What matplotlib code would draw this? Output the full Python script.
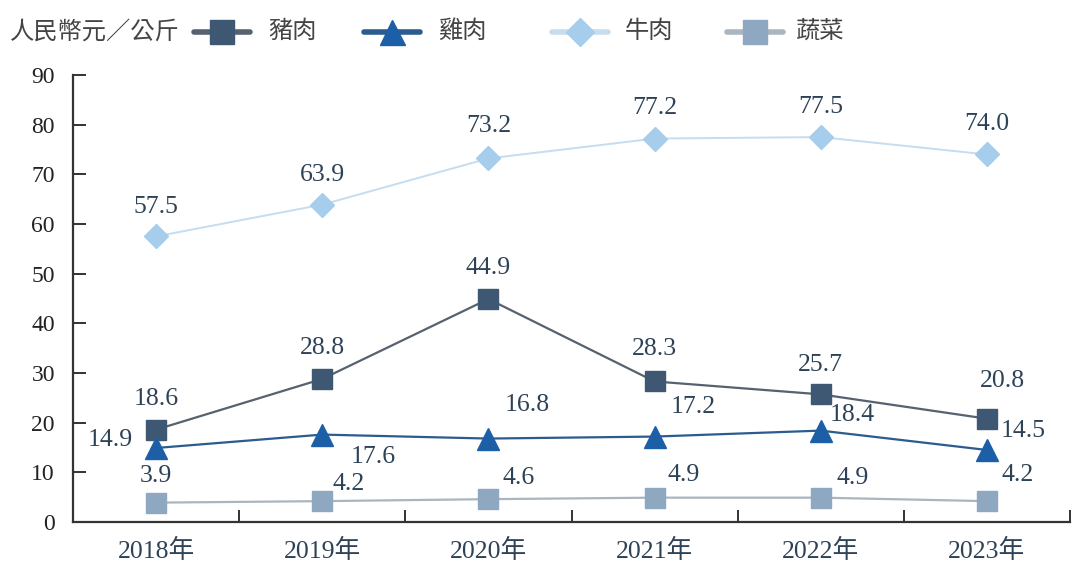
import matplotlib
matplotlib.use("Agg")
import matplotlib.pyplot as plt
from matplotlib.lines import Line2D
import numpy as np

plt.rcParams['font.family'] = ['Liberation Serif', 'Noto Sans CJK TC', 'DejaVu Sans']

years = ["2018年", "2019年", "2020年", "2021年", "2022年", "2023年"]
pork = [18.6, 28.8, 44.9, 28.3, 25.7, 20.8]
chicken = [14.9, 17.6, 16.8, 17.2, 18.4, 14.5]
beef = [57.5, 63.9, 73.2, 77.2, 77.5, 74.0]
veg = [3.9, 4.2, 4.6, 4.9, 4.9, 4.2]
names = ["豬肉", "雞肉", "牛肉", "蔬菜"]
unit = "人民幣元／公斤"

txt = "#2e4257"
fig = plt.figure(figsize=(10.8, 5.81), dpi=100)
ax = fig.add_axes([73/1080, 1-522/581, (1070-73)/1080, (522-75)/581])
x = np.arange(len(years))

styles = [
    dict(data=pork, line="#56626f", mc="#3e5773", marker="s", ms=15, lw=1.6),
    dict(data=chicken, line="#2c5b8e", mc="#1d5fa6", marker="^", ms=16, lw=1.6),
    dict(data=beef, line="#c6dcef", mc="#a6cdec", marker="D", ms=12, lw=1.4),
    dict(data=veg, line="#aab5c0", mc="#8fa8c2", marker="s", ms=15, lw=1.6),
]
for s in styles:
    ax.plot(x, s["data"], color=s["line"], lw=s["lw"], marker=s["marker"], ms=s["ms"],
            mfc=s["mc"], mec=s["mc"], zorder=3, clip_on=False)

fs = 18.5
def lab(xs, ys, offs):
    for xi, yi, (dx, dy) in zip(xs, ys, offs):
        ax.annotate(f"{yi:.1f}", (xi, yi), xytext=(dx, dy), textcoords="offset points",
                    ha="center", va="center", fontsize=fs, color=txt)

lab(x, beef, [(0, 21), (0, 21), (0, 23), (0, 22), (0, 22), (0, 22)])
lab(x, pork, [(0, 22), (0, 22), (0, 22), (0, 23), (0, 21), (11, 27)])
lab(x, chicken, [(-33, 6), (37, -16), (28, 24), (28, 21), (23, 11), (26, 14)])
lab(x, veg, [(0, 19), (19, 12), (22, 15), (21, 16), (23, 14), (22, 19)])

ax.set_xlim(-0.5, 5.5)
ax.set_ylim(0, 90)
ax.set_yticks(range(0, 91, 10))
ax.set_xticks(np.arange(-0.5, 5.6, 1))
ax.set_xticklabels([])
ax.set_xticks(x, minor=True)
ax.set_xticklabels(years, minor=True)
ax.tick_params(axis="x", which="major", direction="in", length=9, width=1.4, color="#333")
ax.tick_params(axis="x", which="minor", length=0, pad=12, labelsize=fs, labelcolor=txt)
ax.tick_params(axis="y", direction="in", length=9, width=1.4, color="#333", pad=13,
               labelsize=17, labelcolor="#222")
for sp in ["top", "right"]:
    ax.spines[sp].set_visible(False)
for sp in ["left", "bottom"]:
    ax.spines[sp].set_linewidth(1.6)
    ax.spines[sp].set_color("#333")

# legend
fig.text(10/1080, 1-32/581, unit, fontsize=17.5, color="#444", va="center", ha="left")
leg_x = [194, 364, 552, 727]
text_x = [268, 438, 625, 795]
ly = 1 - 32/581
for s, lx, tx, nm in zip(styles, leg_x, text_x, names):
    fig.add_artist(Line2D([lx/1080, (lx+56)/1080], [ly, ly], color=s["line"], lw=4,
                          solid_capstyle="round", transform=fig.transFigure))
    fig.add_artist(Line2D([(lx+28)/1080], [ly], marker=s["marker"], ms=s["ms"]+2,
                          mfc=s["mc"], mec=s["mc"], transform=fig.transFigure))
    fig.text(tx/1080, ly, nm, fontsize=17.5, color="#444", va="center", ha="left")

fig.savefig("out.png", dpi=100)
